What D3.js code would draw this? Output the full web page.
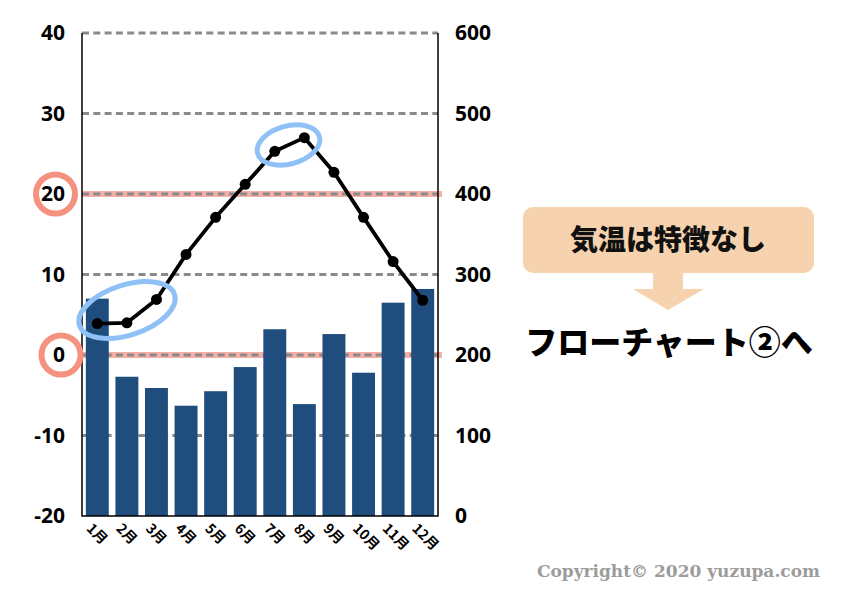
<!DOCTYPE html>
<html><head><meta charset="utf-8">
<script src="https://cdn.jsdelivr.net/npm/d3@7"></script>
<style>
html,body{margin:0;padding:0;background:#fff;}
svg{display:block;}
</style></head>
<body>
<svg id="chart" width="842" height="595"></svg>
<script>
const months = ["1月","2月","3月","4月","5月","6月","7月","8月","9月","10月","11月","12月"];
const precipitation = [270,173,159,137,155,185,232,139,226,178,265,282];
const temperature = [3.9,4.0,6.9,12.5,17.1,21.2,25.3,27.0,22.7,17.1,11.6,6.8];
const leftTicks = [-20,-10,0,10,20,30,40];
const rightTicks = [0,100,200,300,400,500,600];
const highlightTemps = [0,20];
const boxText = "気温は特徴なし";
const flowText = "フローチャート②へ";
const copyright = "Copyright© 2020 yuzupa.com";

const svg = d3.select("#chart");
const L = 82, R = 438, T = 33, B = 516;

const x = d3.scaleBand().domain(months).range([L, R]).paddingInner(0.225).paddingOuter(0.13);
const yL = d3.scaleLinear().domain([-20, 40]).range([B, T]);
const yR = d3.scaleLinear().domain([0, 600]).range([B, T]);

// highlight lines (salmon) behind
svg.append("g").selectAll("line").data(highlightTemps).join("line")
  .attr("x1", L).attr("x2", R + 4)
  .attr("y1", d => yL(d)).attr("y2", d => yL(d))
  .attr("stroke", "#f4a197").attr("stroke-width", 6).attr("stroke-opacity", 0.85);

// gridlines
svg.append("g").selectAll("line").data(leftTicks.filter(d => d > -20)).join("line")
  .attr("x1", L).attr("x2", R)
  .attr("y1", d => yL(d)).attr("y2", d => yL(d))
  .attr("stroke", "#8a8a8a").attr("stroke-width", 2.8).attr("stroke-dasharray", "7,4.3");

// bars
svg.append("g").selectAll("rect").data(precipitation).join("rect")
  .attr("x", (d, i) => x(months[i]))
  .attr("width", x.bandwidth())
  .attr("y", d => yR(d))
  .attr("height", d => B - yR(d))
  .attr("fill", "#1f4e7e");

// frame: left, right, bottom
svg.append("path")
  .attr("d", `M${L},${T}V${B}H${R}V${T}`)
  .attr("fill", "none").attr("stroke", "#000").attr("stroke-width", 1.5);

// line
const line = d3.line().x((d, i) => x(months[i]) + x.bandwidth() / 2).y(d => yL(d));
svg.append("path").datum(temperature).attr("d", line)
  .attr("fill", "none").attr("stroke", "#000").attr("stroke-width", 3.8).attr("stroke-linejoin", "round");
svg.append("g").selectAll("circle").data(temperature).join("circle")
  .attr("cx", (d, i) => x(months[i]) + x.bandwidth() / 2)
  .attr("cy", d => yL(d)).attr("r", 5.5).attr("fill", "#000");

// axes
const axL = svg.append("g").attr("transform", `translate(${L},0)`)
  .call(d3.axisLeft(yL).tickValues(leftTicks).tickSize(0).tickPadding(17).tickFormat(d => String(d)));
axL.select(".domain").remove();
axL.selectAll("text").attr("font-family", "'Noto Sans', 'Open Sans', sans-serif")
  .attr("font-weight", "bold").attr("font-size", 21).attr("fill", "#000");

const axR = svg.append("g").attr("transform", `translate(${R},0)`)
  .call(d3.axisRight(yR).tickValues(rightTicks).tickSize(0).tickPadding(17).tickFormat(d => String(d)));
axR.select(".domain").remove();
axR.selectAll("text").attr("font-family", "'Noto Sans', 'Open Sans', sans-serif")
  .attr("font-weight", "bold").attr("font-size", 21).attr("fill", "#000");

// x labels
svg.append("g").selectAll("text").data(months).join("text")
  .attr("transform", d => `translate(${x(d) + x.bandwidth() / 2 - 8},${B + 10}) rotate(45)`)
  .attr("font-family", "'Noto Sans CJK JP', sans-serif").attr("font-weight", "bold")
  .attr("font-size", 14).attr("fill", "#000").attr("dy", "0.35em")
  .text(d => d);

// salmon circles on left axis labels
const circles = [{v: 20, cx: 55.5}, {v: 0, cx: 61}];
svg.append("g").selectAll("circle").data(circles).join("circle")
  .attr("cx", d => d.cx).attr("cy", d => yL(d.v)).attr("r", 19.5)
  .attr("fill", "none").attr("stroke", "#f4917f").attr("stroke-width", 6);

// blue ellipses
const ell = svg.append("g").attr("fill", "none").attr("stroke", "#8fc1f7").attr("stroke-width", 5);
ell.append("ellipse").attr("transform", "translate(127,310) rotate(-18)").attr("rx", 50).attr("ry", 25);
ell.append("ellipse").attr("transform", "translate(288.5,145) rotate(-15)").attr("rx", 32).attr("ry", 19);

// annotation box
svg.append("rect").attr("x", 523).attr("y", 207).attr("width", 291).attr("height", 66)
  .attr("rx", 10).attr("fill", "#f6d3ae");
svg.append("text").attr("x", 668).attr("y", 250).attr("text-anchor", "middle")
  .attr("font-family", "'Noto Sans CJK JP', sans-serif").attr("font-weight", 900)
  .attr("font-size", 28).attr("fill", "#111").text(boxText);
svg.append("path").attr("d", "M653,273H683V289H704L668,310L633,289H653Z").attr("fill", "#f6d3ae");
svg.append("text").attr("x", 669).attr("y", 354).attr("text-anchor", "middle")
  .attr("font-family", "'Noto Sans CJK JP', sans-serif").attr("font-weight", 900)
  .attr("font-size", 32).attr("fill", "#000").text(flowText);

// copyright
svg.append("text").attr("x", 820).attr("y", 577).attr("text-anchor", "end")
  .attr("font-family", "'DejaVu Serif', serif").attr("font-weight", "bold")
  .attr("font-size", 17).attr("fill", "#9c9c9c").text(copyright);
</script>
</body></html>
